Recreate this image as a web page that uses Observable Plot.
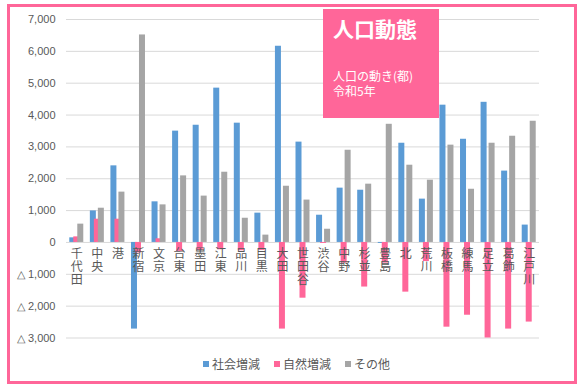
<!DOCTYPE html>
<html>
<head>
<meta charset="utf-8">
<script src="https://cdn.jsdelivr.net/npm/d3@7"></script>
<script src="https://cdn.jsdelivr.net/npm/@observablehq/plot@0.6"></script>
<style>
  html, body { margin: 0; padding: 0; background: #fff; }
  #wrap { position: relative; width: 587px; height: 391px; overflow: hidden; font-family: "Noto Sans CJK JP", "Noto Sans", sans-serif; }
  #frame { position: absolute; left: 7px; top: 4px; width: 564px; height: 374px; border: 3px solid #FF6699; }
  #chart { position: absolute; left: 0; top: 0; }
  #titlebox { position: absolute; left: 323px; top: 9px; width: 116px; height: 109px; background: #FF6699; color: #fff; }
  #titlebox .t { font-size: 21px; font-weight: bold; position: absolute; top: 6px; left: 10px; line-height: 26px; white-space: nowrap; }
  #titlebox .s { font-size: 12px; position: absolute; top: 59px; left: 10px; line-height: 15px; white-space: nowrap; }
  #legend { position: absolute; top: 355px; left: 203px; display: flex; gap: 14px; font-size: 12px; color: #595959; align-items: center; }
  #legend span.sw { display: inline-block; width: 6px; height: 6px; margin-right: 3px; vertical-align: middle; }
  #legend .item { display: flex; align-items: center; }
</style>
</head>
<body>
<div id="wrap">
  <div id="frame"></div>
  <div id="chart"></div>
  <div id="titlebox"><div class="t">人口動態</div><div class="s">人口の動き(都)<br>令和5年</div></div>
  <div id="legend"></div>
</div>
<script>
const wards = ["千代田","中央","港","新宿","文京","台東","墨田","江東","品川","目黒","大田","世田谷","渋谷","中野","杉並","豊島","北","荒川","板橋","練馬","足立","葛飾","江戸川"];
const social  = [145, 990, 2405, -2720, 1275, 3495, 3680, 4845, 3745, 920, 6160, 3150, 855, 1705, 1640, -30, 3115, 1360, 4310, 3240, 4400, 2240, 545];
const natural = [175, 730, 730, -330, 115, -280, -250, -230, -260, -250, -2720, -1750, -30, -650, -1400, -650, -1560, -600, -2660, -2285, -3000, -2720, -2500];
const other   = [575, 1075, 1580, 6515, 1180, 2090, 1455, 2205, 760, 230, 1765, 1330, 415, 2895, 1830, 3710, 2425, 1955, 3055, 1670, 3115, 3335, 3805];
const seriesNames = ["社会増減", "自然増減", "その他"];
const seriesColors = ["#5B9BD5", "#FF6699", "#A5A5A5"];
const yTicks = [-3000, -2000, -1000, 0, 1000, 2000, 3000, 4000, 5000, 6000, 7000];

const W = 587, H = 391;
const mL = 66, mR = 48, mT = 19, mB = 53.5;
const band = (W - mL - mR) / wards.length;
const barW = 6;
const inset = (band - barW) / 2;

const rows = [social, natural, other].map((vals, si) =>
  wards.map((w, i) => ({ward: w, value: vals[i], series: seriesNames[si]})));

const fmt = d3.format(",");
const chart = Plot.plot({
  width: W, height: H,
  marginLeft: mL, marginRight: mR, marginTop: mT, marginBottom: mB,
  style: { fontFamily: "'Liberation Sans', Arial, sans-serif", background: "transparent" },
  x: { domain: wards, padding: 0, round: false, axis: null },
  y: { domain: [-3000, 7000], axis: null },
  marks: [
    Plot.gridY(yTicks, { stroke: "#d9d9d9", strokeOpacity: 1, strokeWidth: 1 }),
    Plot.axisY(yTicks, { tickSize: 0, tickPadding: 11, fontSize: 11, fill: "#595959", label: null,
      tickFormat: d => d < 0 ? "△ " + fmt(-d) : fmt(d) }),
    ...rows.map((r, si) => Plot.barY(r, {
      x: "ward", y: "value", fill: seriesColors[si],
      insetLeft: inset, insetRight: inset, dx: (si - 1) * 4
    })),
    Plot.text(wards, {
      x: d => d, y: wards.map(() => 0),
      text: d => d.split("").join("\n"),
      lineAnchor: "top", dy: 7, lineHeight: 1.05,
      fontSize: 12, fill: "#595959",
      fontFamily: "'Noto Sans CJK JP', sans-serif"
    })
  ]
});
document.getElementById("chart").appendChild(chart);

const legend = document.getElementById("legend");
seriesNames.forEach((n, i) => {
  const it = document.createElement("div");
  it.className = "item";
  it.innerHTML = `<span class="sw" style="background:${seriesColors[i]}"></span>${n}`;
  legend.appendChild(it);
});
</script>
</body>
</html>
